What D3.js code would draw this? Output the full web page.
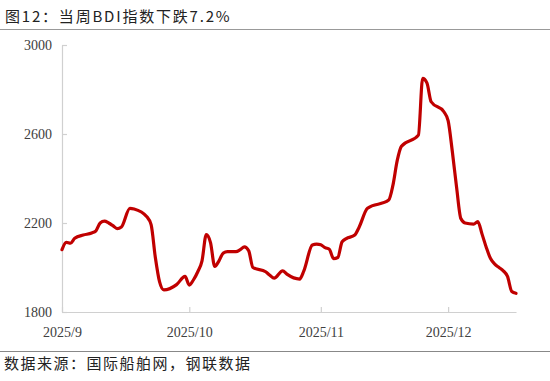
<!DOCTYPE html>
<html>
<head>
<meta charset="utf-8">
<script src="https://cdn.jsdelivr.net/npm/d3@7"></script>
<style>
  body { margin: 0; background: #fff; }
  svg { display: block; }
</style>
</head>
<body>
<script>
// BDI daily values
const dates = [
  "2025-09-01","2025-09-02","2025-09-03","2025-09-04","2025-09-06","2025-09-08","2025-09-09","2025-09-10",
  "2025-09-11","2025-09-12","2025-09-13","2025-09-14","2025-09-15","2025-09-17","2025-09-18","2025-09-21",
  "2025-09-22","2025-09-23","2025-09-24","2025-09-25","2025-09-28","2025-09-30","2025-10-01","2025-10-02",
  "2025-10-03","2025-10-04","2025-10-05","2025-10-06","2025-10-07","2025-10-08","2025-10-09","2025-10-10",
  "2025-10-12","2025-10-13","2025-10-14","2025-10-15","2025-10-16","2025-10-19","2025-10-20","2025-10-21",
  "2025-10-23","2025-10-24","2025-10-27","2025-10-28","2025-10-30","2025-10-31","2025-11-01","2025-11-02",
  "2025-11-03","2025-11-04","2025-11-05","2025-11-06","2025-11-07","2025-11-09","2025-11-10","2025-11-12",
  "2025-11-17","2025-11-18","2025-11-19","2025-11-20","2025-11-24","2025-11-25","2025-11-26","2025-11-27",
  "2025-11-30","2025-12-01","2025-12-02","2025-12-03","2025-12-04","2025-12-05","2025-12-07","2025-12-08",
  "2025-12-09","2025-12-10","2025-12-11","2025-12-12","2025-12-13","2025-12-14","2025-12-15","2025-12-16",
  "2025-12-17"
];
const bdi = [
  2080, 2113, 2109, 2131, 2146, 2155, 2165, 2200,
  2208, 2200, 2188, 2175, 2182, 2266, 2263, 2228,
  2193, 2045, 1935, 1899, 1923, 1960, 1921, 1945,
  1981, 2030, 2148, 2112, 2005, 2030, 2065, 2071,
  2071, 2080, 2093, 2075, 2000, 1981, 1965, 1952,
  1985, 1970, 1948, 1985, 2101, 2105, 2102, 2089,
  2082, 2040, 2045, 2115, 2130, 2146, 2180, 2266,
  2303, 2370, 2480, 2545, 2595, 2850, 2830, 2745,
  2700, 2660, 2520, 2360, 2220, 2200, 2195, 2206,
  2150, 2090, 2040, 2015, 2000, 1985, 1960, 1892,
  1884
];
const yTicks = [1800, 2200, 2600, 3000];
const xTicks = ["2025-09-01", "2025-10-01", "2025-11-01", "2025-12-01"];
const xTickLabels = ["2025/9", "2025/10", "2025/11", "2025/12"];

const titleText = "图12：当周BDI指数下跌7.2%";
const sourceText = "数据来源：国际船舶网，钢联数据";

const w = 550, h = 381;
const parse = d3.utcParse("%Y-%m-%d");
const data = dates.map((d, i) => ({ date: parse(d), v: bdi[i] }));

const x = d3.scaleUtc()
  .domain([parse("2025-09-01"), parse("2025-12-17")])
  .range([62, 516]);
const y = d3.scaleLinear()
  .domain([1800, 3000])
  .range([312, 45]);

const svg = d3.select("body").append("svg")
  .attr("width", w)
  .attr("height", h);

// title + rule
svg.append("text")
  .attr("x", 5).attr("y", 22)
  .attr("font-family", "'Noto Sans CJK SC', sans-serif")
  .attr("font-size", 15)
  .attr("letter-spacing", 1.8)
  .attr("fill", "#222")
  .text(titleText);
svg.append("line")
  .attr("x1", 0).attr("x2", w).attr("y1", 29.5).attr("y2", 29.5)
  .attr("stroke", "#999").attr("stroke-width", 1);

// axes
const xAxis = d3.axisBottom(x)
  .tickValues(xTicks.map(parse))
  .tickFormat((d, i) => xTickLabels[i])
  .tickSizeInner(-5).tickSizeOuter(0).tickPadding(15);
const yAxis = d3.axisLeft(y)
  .tickValues(yTicks)
  .tickFormat(d3.format("d"))
  .tickSizeInner(-5).tickSizeOuter(0).tickPadding(10);

const gx = svg.append("g").attr("transform", "translate(0,312)").call(xAxis);
const gy = svg.append("g").attr("transform", "translate(62,0)").call(yAxis);

[gx, gy].forEach(g => {
  g.select(".domain").attr("stroke", "#d0d0d0").attr("stroke-width", 1.2);
  g.selectAll(".tick line").attr("stroke", "#d0d0d0").attr("stroke-width", 1.2);
  g.selectAll(".tick text")
    .attr("font-family", "'Liberation Serif', 'Times New Roman', serif")
    .attr("font-size", 14)
    .attr("fill", "#404040");
});

// line
const line = d3.line()
  .x(d => x(d.date))
  .y(d => y(d.v))
  .curve(d3.curveMonotoneX);

svg.append("path")
  .datum(data)
  .attr("fill", "none")
  .attr("stroke", "#C00000")
  .attr("stroke-width", 3.2)
  .attr("stroke-linejoin", "round")
  .attr("stroke-linecap", "round")
  .attr("d", line);

// source + rule
svg.append("line")
  .attr("x1", 0).attr("x2", w).attr("y1", 351.5).attr("y2", 351.5)
  .attr("stroke", "#888").attr("stroke-width", 1);
svg.append("text")
  .attr("x", 4).attr("y", 369)
  .attr("font-family", "'Noto Sans CJK SC', sans-serif")
  .attr("font-size", 15)
  .attr("letter-spacing", 1.5)
  .attr("fill", "#222")
  .text(sourceText);
</script>
</body>
</html>
